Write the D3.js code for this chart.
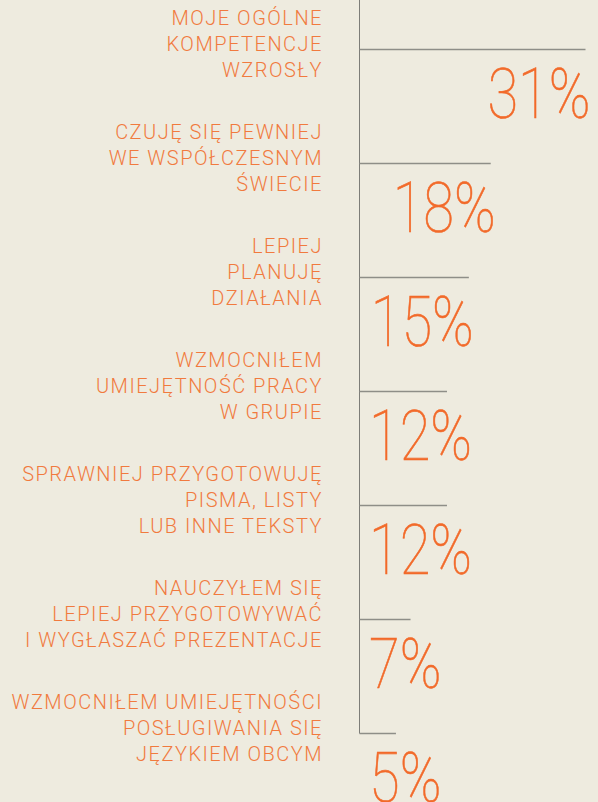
<!DOCTYPE html>
<html>
<head>
<meta charset="utf-8">
<script src="https://cdn.jsdelivr.net/npm/d3@7"></script>
<style>
body { margin: 0; background: #eeebdf; }
svg { display: block; }
.label { font-family: Roboto, sans-serif; font-weight: 300; font-size: 20px; letter-spacing: 1.5px; fill: #f17a3e; }
.num { font-family: Roboto, sans-serif; font-weight: 100; font-size: 70px; fill: #f26a2a; stroke: #f26a2a; stroke-width: 0.6px; }
</style>
</head>
<body>
<svg id="chart"></svg>
<script>
// labels, one array of text lines per row
var labels = [
    ["MOJE OGÓLNE", "KOMPETENCJE", "WZROSŁY"],
    ["CZUJĘ SIĘ PEWNIEJ", "WE WSPÓŁCZESNYM", "ŚWIECIE"],
    ["LEPIEJ", "PLANUJĘ", "DZIAŁANIA"],
    ["WZMOCNIŁEM", "UMIEJĘTNOŚĆ PRACY", "W GRUPIE"],
    ["SPRAWNIEJ PRZYGOTOWUJĘ", "PISMA, LISTY", "LUB INNE TEKSTY"],
    ["NAUCZYŁEM SIĘ", "LEPIEJ PRZYGOTOWYWAĆ", "I WYGŁASZAĆ PREZENTACJE"],
    ["WZMOCNIŁEM UMIEJĘTNOŚCI", "POSŁUGIWANIA SIĘ", "JĘZYKIEM OBCYM"]
];
var percents = [31, 18, 15, 12, 12, 7, 5];

var width = 598, height = 802;
var axisX = 359.5;
var labelRight = 323;
var numMinX = 369;
var numSqueeze = 0.8; // the original digits are narrower than Roboto's

var svg = d3.select("#chart")
    .attr("width", width)
    .attr("height", height);

var rows = d3.range(percents.length);

// row positions (y of each horizontal line)
var y = d3.scalePoint()
    .domain(rows)
    .range([49, 733]);

// line length per percent
var x = d3.scaleLinear()
    .domain([0, 31])
    .range([0, 226]);

// vertical axis
svg.append("line")
    .attr("x1", axisX).attr("x2", axisX)
    .attr("y1", 0).attr("y2", Math.round(y(rows.length - 1)) + 0.5)
    .attr("stroke", "#7d7d78")
    .attr("stroke-width", 1);

// horizontal lines
svg.selectAll(".bar")
    .data(rows)
    .enter()
    .append("line")
    .attr("class", "bar")
    .attr("x1", axisX)
    .attr("x2", function (i) { return axisX + x(percents[i]); })
    .attr("y1", function (i) { return Math.round(y(i)) + 0.5; })
    .attr("y2", function (i) { return Math.round(y(i)) + 0.5; })
    .attr("stroke", "#8e8e88")
    .attr("stroke-width", 1.3);

// labels
var lab = svg.selectAll(".label")
    .data(rows)
    .enter()
    .append("text")
    .attr("class", "label")
    .attr("text-anchor", "end");

lab.selectAll("tspan")
    .data(function (i) { return labels[i].map(function (t) { return { t: t, i: i }; }); })
    .enter()
    .append("tspan")
    .attr("x", labelRight)
    .attr("y", function (d, k) { return y(d.i) - 24 + k * 26; })
    .text(function (d) { return d.t; });

// big percentages
svg.selectAll(".num")
    .data(rows)
    .enter()
    .append("text")
    .attr("class", "num")
    .text(function (i) { return percents[i] + "%"; })
    .each(function (i) {
        var el = d3.select(this);
        var w = this.getComputedTextLength() * numSqueeze;
        var end = axisX + x(percents[i]) + 5;
        var tx = end - w;
        if (tx < numMinX) tx = numMinX;
        el.attr("transform", "translate(" + tx + "," + (y(i) + 69) + ") scale(" + numSqueeze + ",1)");
    });
</script>
</body>
</html>
